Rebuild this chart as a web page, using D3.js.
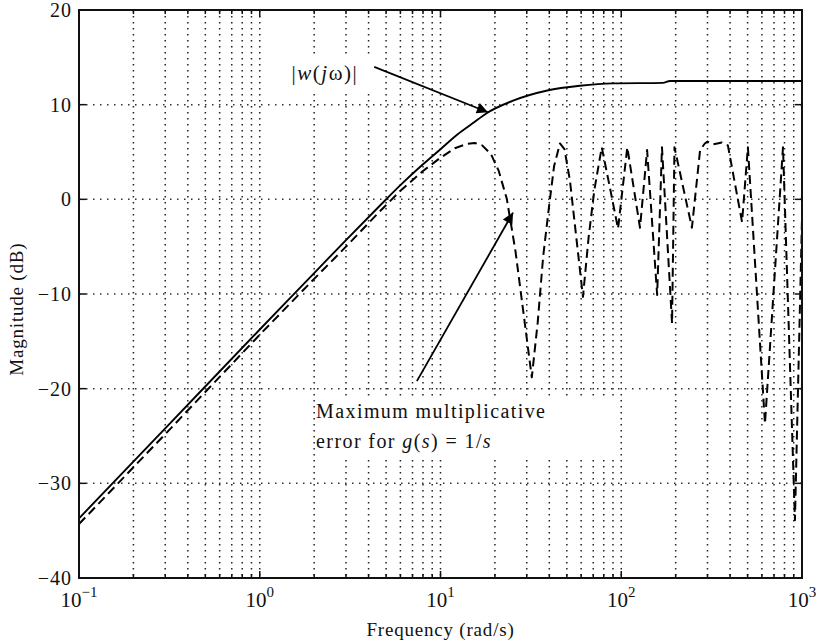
<!DOCTYPE html>
<html>
<head>
<meta charset="utf-8">
<script src="https://cdn.jsdelivr.net/npm/d3@7"></script>
<style>
  body { margin: 0; background: #fff; }
  text { font-family: "Liberation Serif", "DejaVu Serif", serif; fill: #111; }
</style>
</head>
<body>
<div id="canvas"></div>
<script>
"use strict";

/* -------------------- Data -------------------- */

// |w(jw)| weighting curve, solid
let freqSolid = [0.1, 0.3, 1, 2, 3, 4.6, 6, 8, 10, 12.5, 15, 18, 25, 39, 59, 90, 170, 186, 1000];
let magSolid = [-33.7, -24.2, -13.75, -7.8, -4.3, -0.7, 1.5, 3.7, 5.3, 6.9, 8.0, 9.1, 10.4, 11.5, 12.0, 12.25, 12.3, 12.5, 12.5];

// maximum multiplicative error for g(s) = 1/s, dashed
let freqDashed = [0.1, 0.3, 1, 2, 3, 4.6, 6, 8, 10, 12, 14, 15.5, 17, 19, 21, 23.3, 26, 29, 32,
    34.5, 37, 40, 42.5, 45.8, 48.5, 52, 56, 61.4, 66, 71, 78, 86, 96, 108, 127, 139, 158, 168,
    191, 197, 246, 273, 290, 300, 320, 340, 360, 389, 466, 502, 624, 785, 914, 1000];
let magDashed = [-34.3, -24.8, -14.3, -8.4, -5.0, -1.3, 0.9, 3.0, 4.4, 5.4, 5.85, 5.95, 5.7, 4.8, 3.0, 0, -5.5, -12.5, -18.8,
    -13, -6, -0.5, 3.5, 5.9, 5.3, 2, -3.5, -10.3, -4, 1, 5.5, 1.5, -3.1, 5.5, -3.0, 5.2, -10.1, 5.5,
    -13.1, 5.5, -3.0, 5.2, 5.9, 6.1, 5.8, 5.9, 6.0, 5.7, -2.4, 5.5, -23.7, 5.5, -33.9, -2];

let yTicks = [20, 10, 0, -10, -20, -30, -40];
let xDecades = [-1, 0, 1, 2, 3];

/* -------------------- Layout -------------------- */

let svgWidth = 817;
let svgHeight = 642;
let plotLeft = 79, plotRight = 802, plotTop = 10, plotBottom = 578;

let svg = d3.select("#canvas")
    .append("svg")
    .attr("width", svgWidth)
    .attr("height", svgHeight);

let xScale = d3.scaleLog()
    .domain([0.1, 1000])
    .range([plotLeft, plotRight]);

let yScale = d3.scaleLinear()
    .domain([-40, 20])
    .range([plotBottom, plotTop]);

/* -------------------- Grid -------------------- */

let gridFreqs = [];
xDecades.forEach(function (e) {
    for (let k = 1; k <= 9; k++) {
        let f = k * Math.pow(10, e);
        if (f > 0.1 + 1e-9 && f < 1000 - 1e-9) gridFreqs.push({ f: f, major: k === 1 });
    }
});

svg.selectAll("line.vgrid")
    .data(gridFreqs)
    .join("line")
    .attr("class", "vgrid")
    .attr("x1", function (d) { return xScale(d.f); })
    .attr("x2", function (d) { return xScale(d.f); })
    .attr("y1", plotTop)
    .attr("y2", plotBottom)
    .attr("stroke", "#222")
    .attr("stroke-width", 1.5)
    .attr("stroke-dasharray", "1.5,4.5");

svg.selectAll("line.hgrid")
    .data(yTicks.filter(function (d) { return d > -40 && d < 20; }))
    .join("line")
    .attr("class", "hgrid")
    .attr("x1", plotLeft)
    .attr("x2", plotRight)
    .attr("y1", function (d) { return yScale(d); })
    .attr("y2", function (d) { return yScale(d); })
    .attr("stroke", "#333")
    .attr("stroke-width", 1.5)
    .attr("stroke-dasharray", "1.5,5.5");

/* white boxes behind the annotation text */
svg.append("rect")
    .attr("x", xScale(1.45))
    .attr("y", yScale(15.0))
    .attr("width", xScale(4.3) - xScale(1.45))
    .attr("height", yScale(11.4) - yScale(15.0))
    .attr("fill", "#fff");

svg.append("rect")
    .attr("x", xScale(2.03))
    .attr("y", yScale(-20.8))
    .attr("width", xScale(95) - xScale(2.03))
    .attr("height", yScale(-27.2) - yScale(-20.8))
    .attr("fill", "#fff");

/* -------------------- Curves -------------------- */

let line = d3.line()
    .x(function (d) { return xScale(d[0]); })
    .y(function (d) { return yScale(d[1]); });

svg.append("path")
    .datum(d3.zip(freqSolid, magSolid))
    .attr("d", line.curve(d3.curveMonotoneX))
    .attr("fill", "none")
    .attr("stroke", "#000")
    .attr("stroke-width", 1.9);

svg.append("path")
    .datum(d3.zip(freqDashed, magDashed))
    .attr("d", line.curve(d3.curveLinear))
    .attr("fill", "none")
    .attr("stroke", "#000")
    .attr("stroke-width", 2)
    .attr("stroke-linejoin", "round")
    .attr("stroke-dasharray", "9,5");

/* -------------------- Frame and ticks -------------------- */

svg.append("rect")
    .attr("x", plotLeft)
    .attr("y", plotTop)
    .attr("width", plotRight - plotLeft)
    .attr("height", plotBottom - plotTop)
    .attr("fill", "none")
    .attr("stroke", "#111")
    .attr("stroke-width", 2);

[plotBottom, plotTop].forEach(function (yy) {
    let dir = yy === plotBottom ? -1 : 1;
    svg.selectAll(null)
        .data(gridFreqs)
        .join("line")
        .attr("x1", function (d) { return xScale(d.f); })
        .attr("x2", function (d) { return xScale(d.f); })
        .attr("y1", yy)
        .attr("y2", function (d) { return yy + dir * (d.major ? 7 : 4); })
        .attr("stroke", "#111")
        .attr("stroke-width", 1.5);
});

[plotLeft, plotRight].forEach(function (xx) {
    let dir = xx === plotLeft ? 1 : -1;
    svg.selectAll(null)
        .data(yTicks.filter(function (d) { return d > -40 && d < 20; }))
        .join("line")
        .attr("x1", xx)
        .attr("x2", xx + dir * 7)
        .attr("y1", function (d) { return yScale(d); })
        .attr("y2", function (d) { return yScale(d); })
        .attr("stroke", "#111")
        .attr("stroke-width", 1.5);
});

/* -------------------- Tick labels -------------------- */

svg.selectAll("text.ylab")
    .data(yTicks)
    .join("text")
    .attr("class", "ylab")
    .attr("x", plotLeft - 7)
    .attr("y", function (d) { return yScale(d) + 7; })
    .attr("text-anchor", "end")
    .attr("font-size", 20)
    .attr("letter-spacing", 1)
    .text(function (d) { return d < 0 ? "\u2212" + Math.abs(d) : String(d); });

let xLabels = svg.selectAll("text.xlab")
    .data(xDecades)
    .join("text")
    .attr("class", "xlab")
    .attr("x", function (d) { return xScale(Math.pow(10, d)); })
    .attr("y", 607)
    .attr("text-anchor", "middle")
    .attr("font-size", 21);

xLabels.append("tspan").text("10");
xLabels.append("tspan")
    .attr("font-size", 15)
    .attr("dy", -10)
    .text(function (d) { return d < 0 ? "\u2212" + Math.abs(d) : String(d); });

/* -------------------- Axis titles -------------------- */

svg.append("text")
    .attr("x", xScale(10))
    .attr("y", 636)
    .attr("text-anchor", "middle")
    .attr("font-size", 19)
    .attr("letter-spacing", 0.8)
    .text("Frequency (rad/s)");

svg.append("text")
    .attr("transform", "translate(23," + yScale(-11.6) + ") rotate(-90)")
    .attr("text-anchor", "middle")
    .attr("font-size", 19)
    .attr("letter-spacing", 0.8)
    .text("Magnitude (dB)");

/* -------------------- Annotations -------------------- */

svg.append("defs").append("marker")
    .attr("id", "head")
    .attr("viewBox", "0 0 10 10")
    .attr("refX", 10)
    .attr("refY", 5)
    .attr("markerWidth", 17)
    .attr("markerHeight", 11)
    .attr("markerUnits", "userSpaceOnUse")
    .attr("orient", "auto")
    .append("path")
    .attr("d", "M0,0 L10,5 L0,10 Z")
    .attr("fill", "#000");

let wLabel = svg.append("text")
    .attr("x", xScale(1.5))
    .attr("y", yScale(12.6))
    .attr("font-size", 21)
    .attr("letter-spacing", 1.5);
wLabel.append("tspan").text("|");
wLabel.append("tspan").attr("font-style", "italic").text("w");
wLabel.append("tspan").text("(");
wLabel.append("tspan").attr("font-style", "italic").text("j");
wLabel.append("tspan").text("\u03c9)|");

svg.append("line")
    .attr("x1", xScale(4.3))
    .attr("y1", yScale(14.0))
    .attr("x2", xScale(18.3))
    .attr("y2", yScale(9.2))
    .attr("stroke", "#000")
    .attr("stroke-width", 1.8)
    .attr("marker-end", "url(#head)");

svg.append("line")
    .attr("x1", xScale(7.4))
    .attr("y1", yScale(-19.2))
    .attr("x2", xScale(25.2))
    .attr("y2", yScale(-1.4))
    .attr("stroke", "#000")
    .attr("stroke-width", 1.8)
    .attr("marker-end", "url(#head)");

svg.append("text")
    .attr("x", xScale(2.05))
    .attr("y", yScale(-23.1))
    .attr("font-size", 20)
    .attr("letter-spacing", 1.4)
    .text("Maximum multiplicative");

let errLabel = svg.append("text")
    .attr("x", xScale(2.05))
    .attr("y", yScale(-26.3))
    .attr("font-size", 20)
    .attr("letter-spacing", 1.4);
errLabel.append("tspan").text("error for ");
errLabel.append("tspan").attr("font-style", "italic").text("g");
errLabel.append("tspan").text("(");
errLabel.append("tspan").attr("font-style", "italic").text("s");
errLabel.append("tspan").text(") = 1/");
errLabel.append("tspan").attr("font-style", "italic").text("s");
</script>
</body>
</html>
